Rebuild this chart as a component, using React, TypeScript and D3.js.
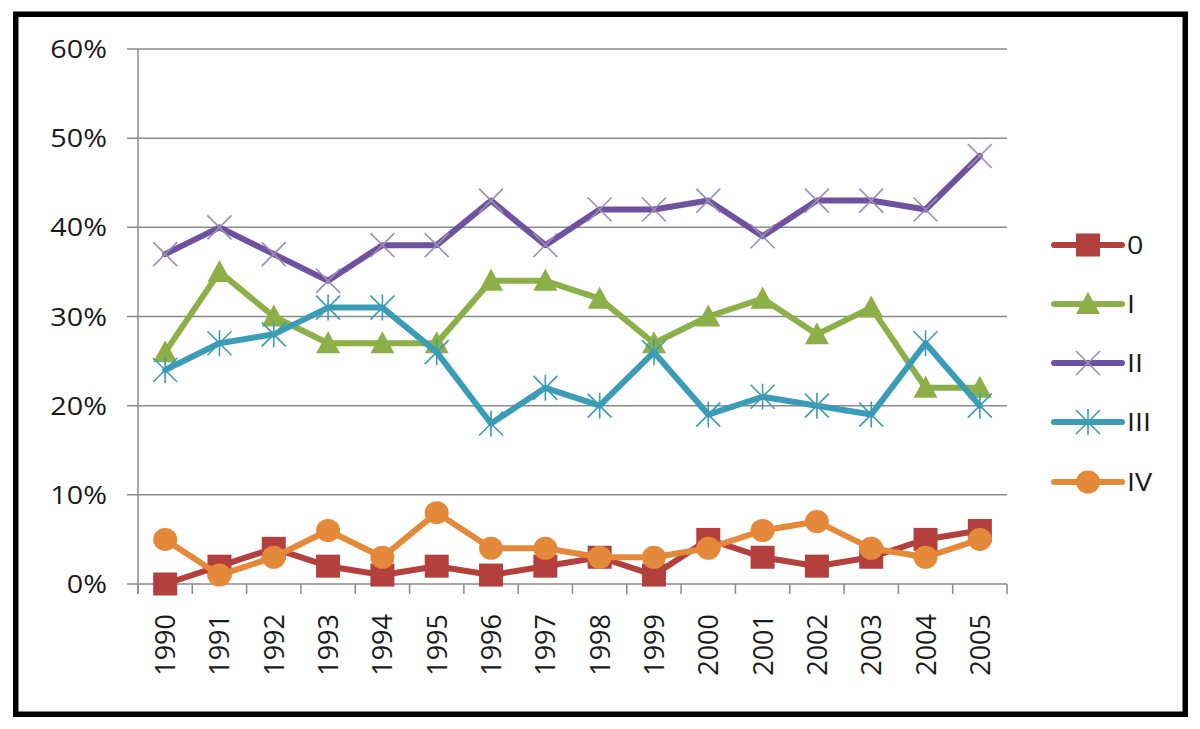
import React from "react";
import * as d3 from "d3";

const years = ["1990","1991","1992","1993","1994","1995","1996","1997","1998","1999","2000","2001","2002","2003","2004","2005"];
const yTicks = [0, 10, 20, 30, 40, 50, 60];
const s0 = [0, 2, 4, 2, 1, 2, 1, 2, 3, 1, 5, 3, 2, 3, 5, 6];
const s1 = [26, 35, 30, 27, 27, 27, 34, 34, 32, 27, 30, 32, 28, 31, 22, 22];
const s2 = [37, 40, 37, 34, 38, 38, 43, 38, 42, 42, 43, 39, 43, 43, 42, 48];
const s3 = [24, 27, 28, 31, 31, 26, 18, 22, 20, 26, 19, 21, 20, 19, 27, 20];
const s4 = [5, 1, 3, 6, 3, 8, 4, 4, 3, 3, 4, 6, 7, 4, 3, 5];
const seriesNames = ["0", "I", "II", "III", "IV"];
const seriesData = [s0, s1, s2, s3, s4];
const colors = ["#B3403D", "#8CAF48", "#6E529F", "#3A9CB7", "#E4893A"];
const markerColors = ["#B3403D", "#8CAF48", "#9A8FB3", "#3A9CB7", "#E4893A"];
const markers = ["square", "triangle", "x", "star", "circle"];

const FONT = "'Open Sans', sans-serif";

function Marker({ type, x, y, color }: { type: string; x: number; y: number; color: string }) {
  if (type === "square") return <rect x={x - 12} y={y - 11.5} width={24} height={23} fill={color} />;
  if (type === "circle") return <ellipse cx={x} cy={y} rx={12} ry={11.5} fill={color} />;
  if (type === "triangle")
    return <path d={`M${x},${y - 12} L${x + 12},${y + 10} L${x - 12},${y + 10} Z`} fill={color} />;
  if (type === "x")
    return (
      <path d={`M${x - 12},${y - 12} L${x + 12},${y + 12} M${x - 12},${y + 12} L${x + 12},${y - 12}`}
        stroke={color} strokeWidth={1.6} fill="none" />
    );
  return (
    <path d={`M${x - 12},${y - 12} L${x + 12},${y + 12} M${x - 12},${y + 12} L${x + 12},${y - 12} M${x},${y - 13} L${x},${y + 13}`}
      stroke={color} strokeWidth={1.6} fill="none" />
  );
}

export default function App() {
  const left = 138, right = 1007, top = 49, bottom = 584;
  const x = d3.scaleBand<string>().domain(years).range([left, right]);
  const y = d3.scaleLinear().domain([0, 60]).range([bottom, top]);
  const cx = (yr: string) => (x(yr) as number) + x.bandwidth() / 2;
  const line = d3.line<number>().x((_, i) => cx(years[i])).y((d) => y(d));
  const legendY = [245, 304, 363, 422, 482];

  return (
    <svg width={1200} height={729} style={{ position: "absolute", left: 0, top: 0, background: "#fff" }}>
      <rect x={0} y={0} width={1200} height={729} fill="#fff" />
      {yTicks.map((t) => (
        <line key={t} x1={127} x2={right} y1={y(t)} y2={y(t)} stroke="#8a8a8a" strokeWidth={1.5} />
      ))}
      <line x1={left} x2={left} y1={top} y2={bottom + 10} stroke="#8a8a8a" strokeWidth={1.5} />
      {years.concat(["end"]).map((yr, i) => {
        const xx = left + i * x.step();
        return <line key={i} x1={xx} x2={xx} y1={bottom} y2={bottom + 10} stroke="#8a8a8a" strokeWidth={1.5} />;
      })}
      {yTicks.map((t) => (
        <text key={t} transform={`translate(107,${y(t)}) scale(1.15,1)`} dy="0.36em" textAnchor="end"
          fontFamily={FONT} fontSize={25} fill="#1a1a1a">
          {t + "%"}
        </text>
      ))}
      {years.map((yr) => (
        <text key={yr} transform={`translate(${cx(yr) + 10},${614}) rotate(-90)`}
          textAnchor="end" fontFamily={FONT} fontSize={27} fill="#1a1a1a">
          {yr}
        </text>
      ))}
      {seriesData.map((data, si) => (
        <g key={si}>
          <path d={line(data) || ""} fill="none" stroke={colors[si]} strokeWidth={6} strokeLinejoin="round" strokeLinecap="round" />
          {data.map((v, i) => (
            <Marker key={i} type={markers[si]} x={cx(years[i])} y={y(v)} color={markerColors[si]} />
          ))}
        </g>
      ))}
      {seriesNames.map((n, si) => (
        <g key={n}>
          <line x1={1054} x2={1122} y1={legendY[si]} y2={legendY[si]} stroke={colors[si]} strokeWidth={6} strokeLinecap="round" />
          <Marker type={markers[si]} x={1088} y={legendY[si]} color={markerColors[si]} />
          <text transform={`translate(1127,${legendY[si]}) scale(1.15,1)`} dy="0.36em" fontFamily={FONT} fontSize={25} fill="#1a1a1a">{n}</text>
        </g>
      ))}
      <rect x={15.75} y={14.25} width={1169.5} height={700} fill="none" stroke="#000" strokeWidth={5.5} />
    </svg>
  );
}
